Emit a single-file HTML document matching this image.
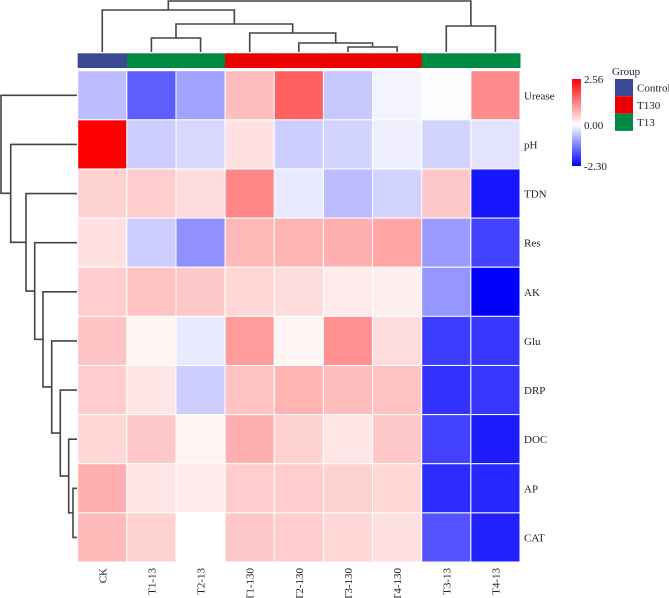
<!DOCTYPE html>
<html><head><meta charset="utf-8"><style>
body{margin:0;background:#fff;}
svg{display:block;font-family:"Liberation Serif",serif;}
</style></head><body>
<svg id="chart" width="669" height="598" viewBox="0 0 669 598"></svg>
<script>
const cols = ["CK","T1-13","T2-13","T1-130","T2-130","T3-130","T4-130","T3-13","T4-13"];
const groups = ["Control","T13","T13","T130","T130","T130","T130","T13","T13"];
const rows = ["Urease","pH","TDN","Res","AK","Glu","DRP","DOC","AP","CAT"];
const values = [
 [-0.6,-1.45,-0.85,0.65,1.6,-0.5,-0.1,-0.02,1.15],
 [2.56,-0.45,-0.35,0.3,-0.45,-0.4,-0.15,-0.4,-0.25],
 [0.45,0.5,0.35,1.2,-0.2,-0.6,-0.4,0.55,-2.1],
 [0.3,-0.45,-1.0,0.7,0.75,0.8,0.9,-0.9,-1.7],
 [0.5,0.6,0.55,0.4,0.35,0.2,0.15,-0.95,-2.3],
 [0.6,0.1,-0.2,1.0,0.1,1.1,0.35,-1.75,-1.8],
 [0.5,0.25,-0.45,0.6,0.75,0.65,0.6,-1.85,-1.8],
 [0.4,0.55,0.1,0.8,0.45,0.25,0.55,-1.7,-2.05],
 [0.8,0.25,0.2,0.5,0.5,0.45,0.4,-1.9,-1.95],
 [0.7,0.45,0.0,0.55,0.5,0.4,0.3,-1.55,-2.0]
];
const vmin = -2.30, vmax = 2.56;
const colorTicks = ["2.56","0.00","-2.30"];
const groupNames = ["Control","T130","T13"];
const groupColors = {"Control":"#3b4994","T130":"#ee0000","T13":"#008b45"};

const svg = document.getElementById('chart');
const NS = "http://www.w3.org/2000/svg";
function mk(tag, attrs, parent){const e=document.createElementNS(NS,tag);for(const k in attrs)e.setAttribute(k,attrs[k]);(parent||svg).appendChild(e);return e;}
const X0=77.7, X1=520, Y0=70.7, Y1=562;
const cw=(X1-X0)/cols.length, rh=(Y1-Y0)/rows.length;
const xc=i=>X0+cw*(i+0.5), yc=j=>Y0+rh*(j+0.5);
function color(v){
  if(v>=0){const t=Math.min(1,v/vmax);const g=Math.round(255*(1-t));return `rgb(255,${g},${g})`;}
  const t=Math.min(1,v/vmin);const g=Math.round(255*(1-t));return `rgb(${g},${g},255)`;
}
// cells
rows.forEach((r,j)=>cols.forEach((c,i)=>{
  const el=mk('rect',{x:X0+cw*i,y:Y0+rh*j,width:cw,height:rh,fill:color(values[j][i]),stroke:'#fff','stroke-width':1});
  
  
}));
// group bar
groups.forEach((g,i)=>{
  const el=mk('rect',{x:X0+cw*i,y:53.3,width:cw+0.5,height:14.7,fill:groupColors[g]});
  
  
});
// labels
rows.forEach((r,j)=>{
  const t=mk('text',{x:524,y:yc(j)+4,'font-size':11,fill:'#222'});t.textContent=r;
  
  
});
cols.forEach((c,i)=>{
  const t=mk('text',{x:0,y:0,'font-size':11,fill:'#222','text-anchor':'end',transform:`translate(${xc(i)+4},568) rotate(-90)`});t.textContent=c;
  
  
});
// dendrograms
const dstyle={stroke:'#444','stroke-width':1.6,fill:'none'};
function line(pts,name){const el=mk('polyline',Object.assign({points:pts.map(p=>p.join(',')).join(' ')},dstyle));
  
  }
// top: [left, right, height], nodes referencing leaves (numbers) or node objects
function topNode(a,b,h){return {a,b,h};}
const topTree=topNode(topNode(0,topNode(topNode(1,2,38),topNode(3,topNode(4,topNode(5,6,47),43),33),24),10),topNode(7,8,26),1);
function drawTop(n){
  if(typeof n==='number') return {x:xc(n),y:52};
  const A=drawTop(n.a),B=drawTop(n.b);
  line([[A.x,A.y],[A.x,n.h],[B.x,n.h],[B.x,B.y]],'top-dendrogram-branch');
  return {x:(A.x+B.x)/2,y:n.h};
}
drawTop(topTree);
// left
const leftH=[1,10.7,26,34.7,43,51.7,60.3,68.7,73];
function buildLeft(k){ if(k===8) return {a:8,b:9,h:leftH[8]}; return {a:k,b:buildLeft(k+1),h:leftH[k]}; }
function drawLeft(n){
  if(typeof n==='number') return {y:yc(n),x:77};
  const A=drawLeft(n.a),B=drawLeft(n.b);
  line([[A.x,A.y],[n.h,A.y],[n.h,B.y],[B.x,B.y]],'left-dendrogram-branch');
  return {y:(A.y+B.y)/2,x:n.h};
}
drawLeft(buildLeft(0));
// colorbar
const defs=mk('defs',{});
const lg=mk('linearGradient',{id:'cb',x1:0,y1:0,x2:0,y2:1},defs);
const z=vmax/(vmax-vmin);
mk('stop',{offset:0,'stop-color':'#ff0000'},lg);mk('stop',{offset:z,'stop-color':'#ffffff'},lg);mk('stop',{offset:1,'stop-color':'#0000ff'},lg);
const cb=mk('rect',{x:572,y:79,width:9,height:87,fill:'url(#cb)'});


const cbY=v=>79+87*(vmax-parseFloat(v))/(vmax-vmin);
colorTicks.forEach(tk=>{const t=mk('text',{x:584,y:cbY(tk)+4,'font-size':11,fill:'#222'});t.textContent=tk;
  
  });
// legend
const lt=mk('text',{x:612,y:75,'font-size':11,fill:'#222'});lt.textContent='Group';


groupNames.forEach((g,k)=>{
  const r=mk('rect',{x:615,y:79+17.3*k,width:18,height:17.3,fill:groupColors[g]});
  
  
  const t=mk('text',{x:637,y:79+17.3*k+12.5,'font-size':11,fill:'#222'});t.textContent=g;
  
  
});
</script>
</body></html>
